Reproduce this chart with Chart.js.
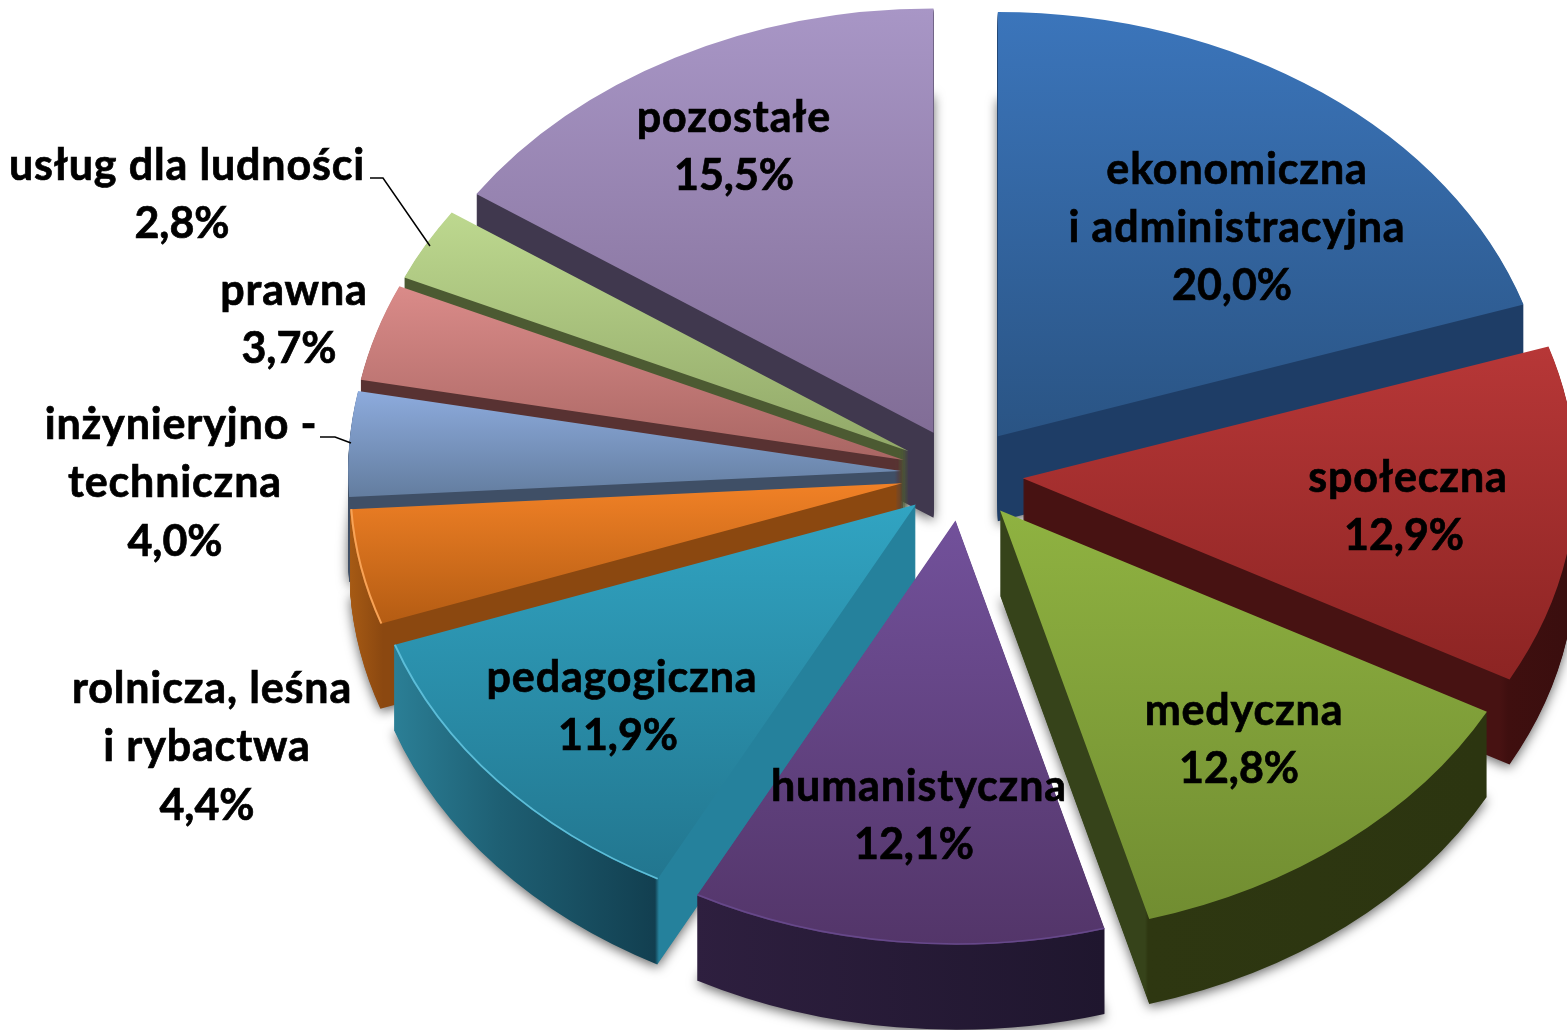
<!DOCTYPE html>
<html lang="pl">
<head>
<meta charset="utf-8">
<title>Wykres</title>
<script src="https://cdn.jsdelivr.net/npm/chart.js@4"></script>
<style>
  html, body { margin: 0; padding: 0; background: #fff; }
  canvas { display: block; }
</style>
</head>
<body>
<canvas id="chart" width="1567" height="1030"></canvas>
<script>
// dane
const categories = [
  "ekonomiczna\ni administracyjna", "społeczna", "medyczna", "humanistyczna", "pedagogiczna",
  "rolnicza, leśna\ni rybactwa", "inżynieryjno -\ntechniczna", "prawna", "usług dla ludności", "pozostałe"
];
const shares = [20.0, 12.9, 12.8, 12.1, 11.9, 4.4, 4.0, 3.7, 2.8, 15.5];

// kolory: gora i dol wierzchu
const faceTop = ["#3b75bb", "#b73737", "#8fb241", "#72519b", "#31a4c2", "#f18126", "#8dabdd", "#da8b89", "#bdd88f", "#a896c6"];
const faceBottom = ["#2a5484", "#8c2423", "#718d31", "#533569", "#22768f", "#b45c13", "#637d9f", "#a96663", "#91a868", "#816d96"];
// boki: [x na ekranie, kolor]
const wallStops = [
  [[990, "#1e3d66"], [1530, "#1e3d66"]],
  [[1020, "#471212"], [1500, "#471212"], [1508, "#3f0f0f"], [1567, "#3a0e0e"]],
  [[1000, "#36431a"], [1145, "#36431a"], [1148, "#2e3711"], [1480, "#2c3510"]],
  [[695, "#2e1f3f"], [1105, "#1f162e"]],
  [[393, "#2b7f96"], [500, "#1e5f73"], [655, "#123f50"], [659, "#25819c"], [915, "#25819c"]],
  [[350, "#a65a14"], [383, "#8b4810"], [905, "#8b4810"]],
  [[348, "#3f4f66"], [905, "#3f4f66"]],
  [[360, "#583232"], [905, "#583232"]],
  [[405, "#4c5a32"], [905, "#4c5a32"]],
  [[475, "#40384e"], [935, "#40384e"]]
];
const edgeColors = [null, null, null, "#66488a", "#5cbdd8", "#f8a356", null, null, null, null];

// geometria 3D
const centerX = 962, centerY = 474, squash = 0.767, depth = 85, explode = 61;
const pieRadius = 553;

// etykiety: pozycja kazdej linii [x, linia bazowa]
const nameFont = "bold 43px Lato", percentFont = "bold 43px Lato";
const nameSpacing = "0.85px";
const labelPos = [
  [[1237, 184], [1237, 242], [1232, 300]],
  [[1408, 492], [1404, 550]],
  [[1244, 725], [1239, 783]],
  [[919, 801], [914, 859]],
  [[622, 692], [618, 750]],
  [[212, 703], [207, 761], [207, 820]],
  [[181, 439], [175, 497], [175, 556]],
  [[294, 305], [289, 363]],
  [[187, 180], [182, 238]],
  [[734, 132], [734, 190]]
];
const leaders = [
  [[370, 178], [383, 178], [430, 246]],
  [[320, 437], [335, 437], [351, 443]]
];

const pie3d = {
  id: "pie3d",
  beforeDatasetsDraw(chart) {
    const ctx = chart.ctx;
    const arcs = chart.getDatasetMeta(0).data;
    const mid = a => (a.startAngle + a.endAngle) / 2;

    // od tylu do przodu
    const order = arcs.map((a, i) => i).sort((p, q) => Math.sin(mid(arcs[p])) - Math.sin(mid(arcs[q])));

    order.forEach(i => {
      const arc = arcs[i];
      const m = mid(arc);
      const tx = centerX - arc.x + explode * Math.cos(m);
      const ty = centerY - arc.y * squash + explode * Math.sin(m) * squash;
      const orig = arc.options;

      // boki
      const wall = ctx.createLinearGradient(-tx, 0, chart.width - tx, 0);
      wallStops[i].forEach(s => wall.addColorStop(s[0] / chart.width, s[1]));

      // wierzch
      let minS = 0, maxS = 0;
      for (let k = 0; k <= 24; k++) {
        const s = Math.sin(arc.startAngle + (arc.endAngle - arc.startAngle) * k / 24);
        minS = Math.min(minS, s);
        maxS = Math.max(maxS, s);
      }
      const face = ctx.createLinearGradient(0, arc.y + minS * arc.outerRadius, 0, arc.y + maxS * arc.outerRadius);
      face.addColorStop(0, faceTop[i]);
      face.addColorStop(1, faceBottom[i]);

      const drawAt = (d, fill) => {
        arc.options = Object.assign(Object.create(orig), { backgroundColor: fill, borderWidth: 0 });
        ctx.save();
        ctx.translate(tx, ty + d);
        ctx.scale(1, squash);
        arc.draw(ctx);
        ctx.restore();
      };

      // cien tylko od najnizszej warstwy
      ctx.save();
      ctx.shadowColor = "rgba(0,0,0,0.6)";
      ctx.shadowBlur = 12;
      ctx.shadowOffsetY = 3;
      drawAt(depth, wall);
      ctx.restore();

      for (let d = depth - 1; d > 0; d--) drawAt(d, wall);
      drawAt(0, face);
      arc.options = orig;

      if (edgeColors[i]) {
        ctx.save();
        ctx.translate(tx, ty);
        ctx.scale(1, squash);
        ctx.beginPath();
        ctx.arc(arc.x, arc.y, arc.outerRadius - 1, arc.startAngle, arc.endAngle);
        ctx.strokeStyle = edgeColors[i];
        ctx.lineWidth = 2;
        ctx.stroke();
        ctx.restore();
      }
    });
    return false; // normalne rysowanie niepotrzebne
  },
  afterDraw(chart) {
    const ctx = chart.ctx;
    ctx.save();
    ctx.strokeStyle = "#000";
    ctx.lineWidth = 1.5;
    leaders.forEach(l => {
      ctx.beginPath();
      l.forEach((p, k) => k ? ctx.lineTo(p[0], p[1]) : ctx.moveTo(p[0], p[1]));
      ctx.stroke();
    });

    ctx.fillStyle = "#000";
    ctx.lineWidth = 0.7;
    ctx.textAlign = "center";
    ctx.textBaseline = "alphabetic";
    categories.forEach((name, i) => {
      const lines = name.split("\n");
      lines.push(shares[i].toFixed(1).replace(".", ",") + "%");
      lines.forEach((txt, k) => {
        const isPercent = k === lines.length - 1;
        ctx.font = isPercent ? percentFont : nameFont;
        ctx.letterSpacing = isPercent ? "0px" : nameSpacing;
        ctx.fillText(txt, labelPos[i][k][0], labelPos[i][k][1]);
        ctx.strokeText(txt, labelPos[i][k][0], labelPos[i][k][1]);
      });
    });
    ctx.restore();
  }
};

new Chart(document.getElementById("chart").getContext("2d"), {
  type: "pie",
  data: {
    labels: categories,
    datasets: [{ data: shares, backgroundColor: faceTop, borderWidth: 0 }]
  },
  options: {
    responsive: false,
    animation: false,
    events: [],
    radius: pieRadius,
    plugins: { legend: { display: false }, tooltip: { enabled: false } }
  },
  plugins: [pie3d]
});
</script>
</body>
</html>
